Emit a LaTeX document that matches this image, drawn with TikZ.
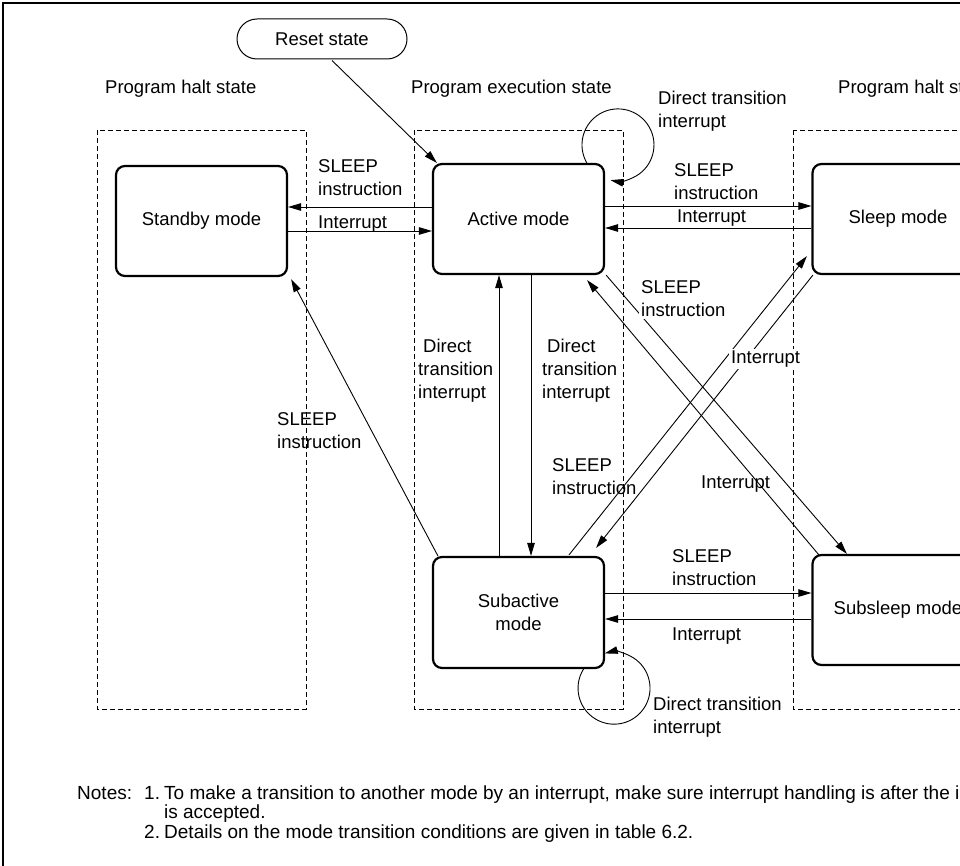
\documentclass[tikz,border=0pt]{standalone}
\usepackage{fontspec}
\usepackage{graphicx}
\setmainfont{Liberation Sans}
\usetikzlibrary{arrows.meta,calc}
\newcommand\labfont{\fontsize{18.5}{23}\selectfont}
\newcommand\notefont{\fontsize{19}{19}\selectfont}
\begin{document}
\begin{tikzpicture}[x=1pt,y=-1pt,
  mode/.style={draw,line width=2.2pt,rounded corners=9pt,minimum width=171pt,minimum height=110pt,inner sep=0pt,align=center,font=\labfont},
  lbl/.style={font=\labfont,align=left,inner sep=0pt,anchor=west},
  nts/.style={font=\notefont,inner sep=0pt,anchor=base west},
  arr/.style={-{Triangle[length=13pt,width=7.5pt]},line width=0.9pt},
  dsh/.style={line width=0.9pt,dash pattern=on 5pt off 3pt}]
\useasboundingbox (0,0) rectangle (960,866);
% outer frame
\draw[line width=2pt] (3,875) -- (3,3) -- (970,3);
% dashed regions
\draw[dsh] (97,130) rectangle (306,709);
\draw[dsh] (414,130) rectangle (623,709);
\draw[dsh] (793,130) rectangle (1020,709);
% titles
\node[lbl] (t1) at (105,89) {Program halt state};
\node[lbl] (t2) at (411,89) {Program execution state};
\node[lbl] (t3) at (838,89) {Program halt state};
% reset
\node[draw,line width=1pt,rounded corners=20pt,minimum width=170pt,minimum height=40pt,inner sep=0pt,font=\labfont] (rst) at (322,39) {Reset state};
% modes
\node[mode] (stb) at (201.5,221) {Standby mode};
\node[mode] (act) at (518.5,219) {Active mode};
\node[mode] (slp) at (898,219) {Sleep mode};
\node[mode,minimum height=111pt] (sub) at (518.5,612.5) {Subactive\\mode};
\node[mode] (ssl) at (898,610) {Subsleep mode};
% arrows
\draw[arr] ($(rst.south)+(10,1)$) -- ($(act.north west)+(5,0)$);
\draw[arr] ($(act.west)+(0,-12)$) -- ($(stb.east)+(0,-14)$);
\draw[arr] ($(stb.east)+(0,10)$) -- ($(act.west)+(0,12)$);
\draw[arr] ($(act.east)+(0,-13)$) -- ($(slp.west)+(0,-13)$);
\draw[arr] ($(slp.west)+(0,9)$) -- ($(act.east)+(0,9)$);
\draw[arr] ($(sub.north)+(-19.5,0)$) -- ($(act.south)+(-19.5,0)$);
\draw[arr] ($(act.south)+(12.5,0)$) -- ($(sub.north)+(12.5,0)$);
\draw[arr] ($(sub.east)+(0,-19.5)$) -- ($(ssl.west)+(0,-17)$);
\draw[arr] ($(ssl.west)+(0,9)$) -- ($(sub.east)+(0,6.5)$);
\draw[arr] ($(sub.north west)+(6,0)$) -- ($(stb.south east)+(3,2)$);
\draw[arr] ($(act.south east)+(1,0)$) -- ($(ssl.north west)+(35.5,0)$);
\draw[arr] ($(ssl.north west)+(7.5,1)$) -- ($(act.south east)+(-18,5)$);
\draw[arr] ($(sub.north)+(50.5,-1)$) -- ($(slp.south west)+(-4.5,-19)$);
\draw[arr] ($(slp.south west)+(1.5,0)$) -- ($(sub.north east)+(-9,-8)$);
% self loops
\draw[arr] ($(act.north)+(68.3,0)$) arc[start angle=150,end angle=462,radius=36];
\draw[arr] ($(sub.south)+(65,0)$) arc[start angle=212,end angle=-105,radius=36];
% labels
\node[lbl] (l1) at (318,178) {SLEEP\\instruction};
\node[lbl] (l2) at (318,224) {Interrupt};
\node[lbl] (l3) at (674,182) {SLEEP\\instruction};
\node[lbl] (l4) at (677,218) {Interrupt};
\node[lbl] (l5) at (658,111) {Direct transition\\interrupt};
\node[lbl] (l6) at (418,371) {\hspace*{5pt}Direct\\transition\\interrupt};
\node[lbl] (l7) at (542,371) {\hspace*{5pt}Direct\\transition\\interrupt};
\node[lbl] (l8) at (277,431) {SLEEP\\instruction};
\node[lbl,fill=white,inner sep=2pt] (l9) at (639,299) {SLEEP\\instruction};
\node[lbl,fill=white,inner sep=2pt] (l10) at (729,359) {Interrupt};
\node[lbl] (l11) at (552,477) {SLEEP\\instruction};
\node[lbl] (l12) at (701,484) {Interrupt};
\node[lbl] (l13) at (672,568) {SLEEP\\instruction};
\node[lbl] (l14) at (672,636) {Interrupt};
\node[lbl] (l15) at (653,717) {Direct transition\\interrupt};
% notes
\node[nts] (n0) at (77,799) {Notes:};
\node[nts] (n1) at (144,799) {1.};
\node[nts] (n1t) at (164,799) {To make a transition to another mode by an interrupt, make sure interrupt handling is after the interrupt};
\node[nts] (n1u) at (164,818.5) {is accepted.};
\node[nts] (n2) at (144,838) {2.};
\node[nts] (n2t) at (164,838) {Details on the mode transition conditions are given in table 6.2.};
\end{tikzpicture}
\end{document}
